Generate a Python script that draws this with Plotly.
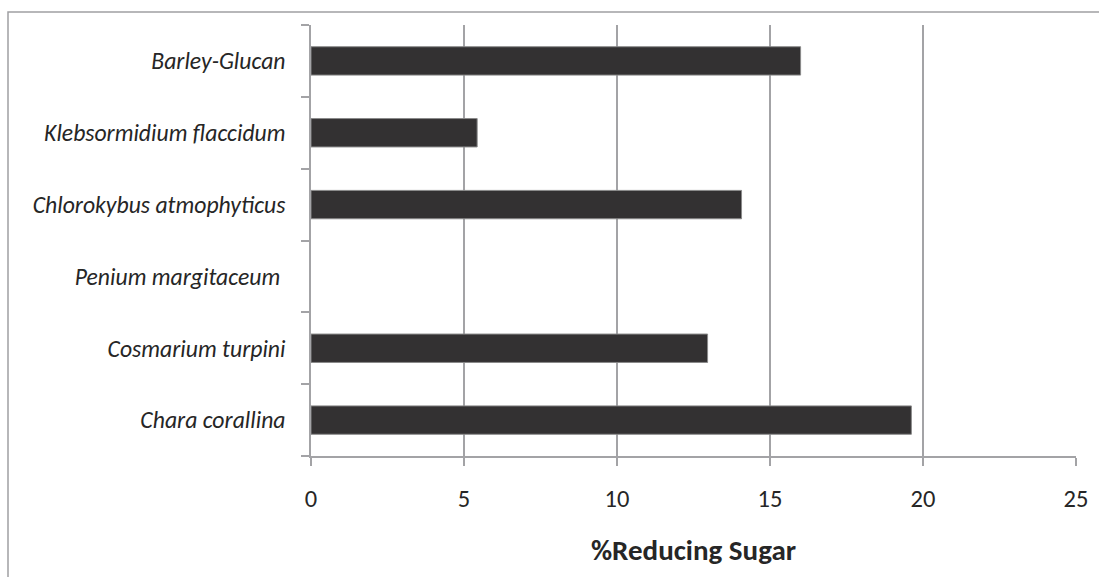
import plotly.graph_objects as go

# Categories listed bottom-to-top as they appear on the y axis
species = [
    "Chara corallina",
    "Cosmarium turpini",
    "Penium margitaceum",
    "Chlorokybus atmophyticus",
    "Klebsormidium flaccidum",
    "Barley-Glucan",
]
species_labels = [
    "Chara corallina",
    "Cosmarium turpini",
    "Penium margitaceum\u00a0",
    "Chlorokybus atmophyticus",
    "Klebsormidium flaccidum",
    "Barley-Glucan",
]
reducing_sugar = [19.62, 12.96, 0.0, 14.07, 5.43, 16.0]
x_ticks = [0, 5, 10, 15, 20, 25]

GRID = "#a3a3a6"
FONT = "Carlito, Lato, sans-serif"

# no outline on empty bars
outline_widths = [1 if v > 0 else 0 for v in reducing_sugar]

fig = go.Figure(
    go.Bar(
        x=reducing_sugar,
        y=species,
        orientation="h",
        width=0.395,
        marker=dict(color="#333132", line=dict(color="#8a8a8a", width=outline_widths)),
    )
)

fig.update_layout(
    width=1099,
    height=577,
    margin=dict(l=311, r=23, t=25, b=121),
    paper_bgcolor="white",
    plot_bgcolor="white",
    showlegend=False,
    xaxis=dict(
        range=[0, 25],
        tickvals=x_ticks,
        ticktext=[str(v) for v in x_ticks],
        showgrid=True,
        gridcolor=GRID,
        gridwidth=1.5,
        zeroline=False,
        showline=True,
        linecolor=GRID,
        linewidth=1.5,
        ticks="outside",
        ticklen=8,
        tickwidth=1.5,
        tickcolor=GRID,
        ticklabelstandoff=12,
        tickfont=dict(family=FONT, size=24.5, color="#262626"),
        title=dict(
            text="<b>%Reducing Sugar</b>",
            font=dict(family=FONT, size=29, color="#262626"),
            standoff=27,
        ),
    ),
    yaxis=dict(
        type="category",
        categoryorder="array",
        categoryarray=species,
        tickvals=species,
        ticktext=species_labels,
        tickson="boundaries",
        showgrid=False,
        zeroline=False,
        showline=True,
        linecolor=GRID,
        linewidth=1.5,
        ticks="outside",
        ticklen=8,
        tickwidth=1.5,
        tickcolor=GRID,
        ticklabelstandoff=19,
        tickfont=dict(family=FONT, size=23.7, color="#262626", style="italic"),
    ),
    shapes=[
        # outer chart border (top and left edges visible)
        dict(
            type="rect",
            xref="paper",
            yref="paper",
            x0=(8 - 311) / 765,
            x1=1.2,
            y0=-0.5,
            y1=1 + 13 / 431,
            line=dict(color="#a0a0a3", width=1.5),
            fillcolor="rgba(0,0,0,0)",
            layer="below",
        )
    ],
)

fig.write_html("out.html")
